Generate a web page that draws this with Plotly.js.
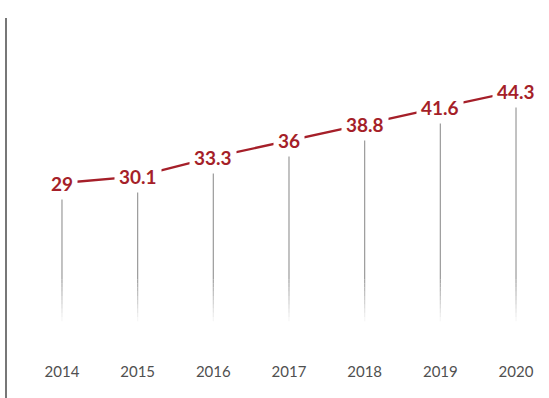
<!DOCTYPE html>
<html>
<head>
<meta charset="utf-8">
<script src="https://cdn.plot.ly/plotly-3.0.1.min.js"></script>
<style>html,body{margin:0;padding:0;background:#fff;}#chart{width:549px;height:398px;}</style>
</head>
<body>
<div id="chart"></div>
<script>
var years = [2014, 2015, 2016, 2017, 2018, 2019, 2020];
var values = [29, 30.1, 33.3, 36, 38.8, 41.6, 44.3];
var valueLabels = ['29', '30.1', '33.3', '36', '38.8', '41.6', '44.3'];
var yearLabels = ['2014', '2015', '2016', '2017', '2018', '2019', '2020'];

var red = '#A51F29';
var traces = [];

// fading drop lines
var dropTopOffset = 1.8, dropSolidEnd = 13, dropFadeEnd = 6, steps = 10;
years.forEach(function (yr, i) {
  traces.push({
    x: [yr, yr], y: [values[i] - dropTopOffset, dropSolidEnd],
    mode: 'lines', line: {color: '#9a9a9a', width: 1.2},
    hoverinfo: 'skip', showlegend: false
  });
  for (var s = 0; s < steps; s++) {
    var a = dropSolidEnd - (dropSolidEnd - dropFadeEnd) * s / steps;
    var b = dropSolidEnd - (dropSolidEnd - dropFadeEnd) * (s + 1) / steps;
    traces.push({
      x: [yr, yr], y: [a, b], mode: 'lines',
      line: {color: 'rgba(154,154,154,' + (1 - (s + 1) / (steps + 1)).toFixed(2) + ')', width: 1.2},
      hoverinfo: 'skip', showlegend: false
    });
  }
});

// main red line
traces.push({
  x: years, y: values, mode: 'lines',
  line: {color: red, width: 2.3},
  hoverinfo: 'skip', showlegend: false
});

var annotations = years.map(function (yr, i) {
  return {
    x: yr, y: values[i], xref: 'x', yref: 'y',
    text: valueLabels[i], showarrow: false,
    font: {family: 'Lato, "Open Sans", sans-serif', size: 19, color: red, weight: 'bold'},
    bgcolor: '#ffffff', borderpad: 4
  };
});

var layout = {
  width: 549, height: 398,
  margin: {l: 0, r: 0, t: 0, b: 40},
  paper_bgcolor: '#ffffff', plot_bgcolor: '#ffffff',
  xaxis: {
    range: [2013.181, 2020.436],
    tickmode: 'array', tickvals: years, ticktext: yearLabels,
    showgrid: false, zeroline: false, showline: false, ticks: '',
    ticklabelstandoff: 3,
    tickfont: {family: 'Lato, "Open Sans", sans-serif', size: 15, color: '#505050'},
    fixedrange: true
  },
  yaxis: {
    range: [-0.12, 59.45],
    showgrid: false, zeroline: false, showline: false, showticklabels: false, ticks: '',
    fixedrange: true
  },
  shapes: [{
    type: 'line', xref: 'paper', yref: 'paper',
    x0: 6 / 549, x1: 6 / 549, y0: 1 - 18 / 358, y1: -40 / 358,
    line: {color: '#555555', width: 1.6}
  }],
  annotations: annotations
};

Plotly.newPlot('chart', traces, layout, {displayModeBar: false, staticPlot: true});
</script>
</body>
</html>
